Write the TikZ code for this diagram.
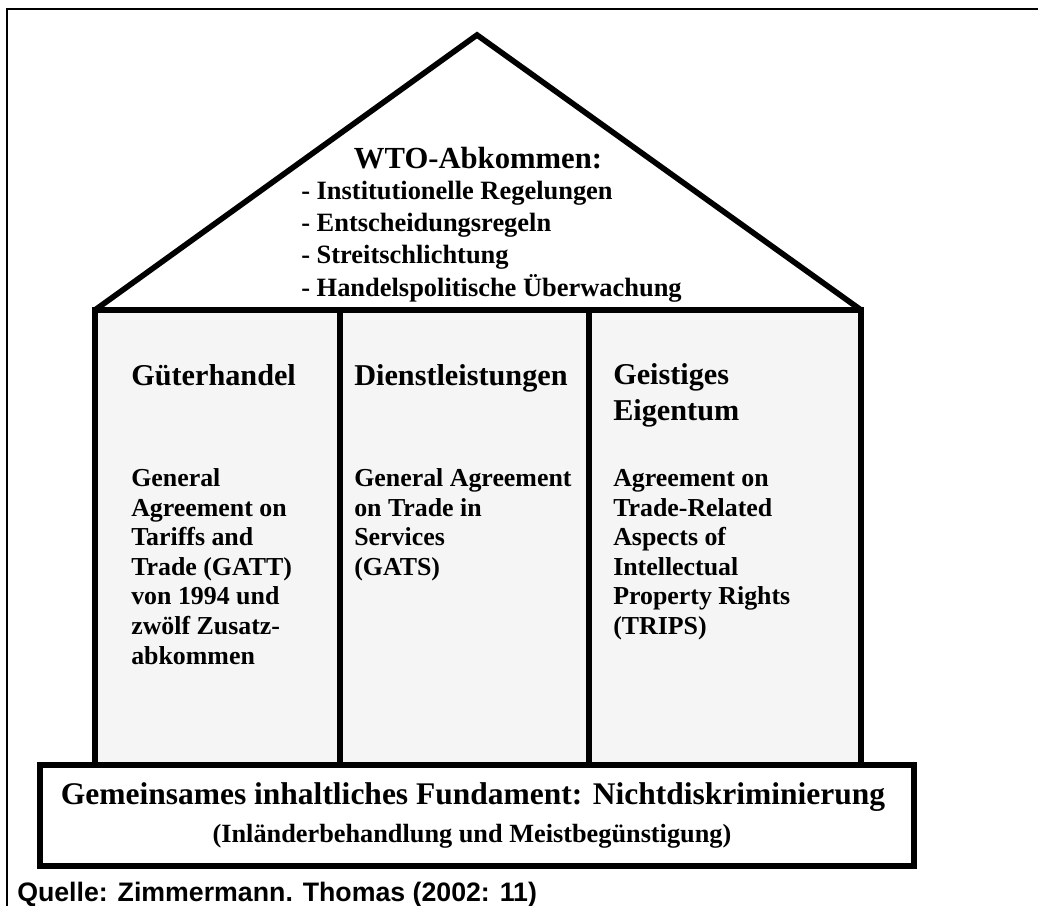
\documentclass[tikz,border=0pt]{standalone}
\usepackage{fontspec}
\setmainfont{Liberation Serif}
\setsansfont{Liberation Sans}
\usetikzlibrary{%
	positioning,%
}
\tikzset{
	roofline/.style={%
			draw,%
			line width=4pt,%
			line join=miter},%
	pillarbox/.style={%
			draw,%
			line width=4pt,%
			fill=black!4},%
	basebox/.style={%
			draw,%
			line width=4.6pt,%
			fill=white},%
	framenode/.style={%
			draw,%
			line width=1.2pt},%
	titlenode/.style={%
			anchor=base west,%
			font={\bfseries\fontsize{21.5}{25}\selectfont}},%
	bodynode/.style={%
			anchor=base west,%
			font={\bfseries\fontsize{18.4}{21}\selectfont}},%
	rooflist/.style={%
			anchor=base west,%
			font={\bfseries\fontsize{18.8}{22.8}\selectfont}},%
}

\begin{document}
\begin{tikzpicture}[x=0.025cm, y=-0.025cm, nodes={inner sep=0, align=left}]%
	\useasboundingbox (0,0) rectangle (1038,906);

	\draw[framenode] (7,906) -- (7,9) -- (1038,9);

	\draw[roofline] (95,310) -- (477,35) -- (861,310);
	\draw[pillarbox] (95,310) rectangle (340,765);
	\draw[pillarbox] (340,310) rectangle (589,765);
	\draw[pillarbox] (589,310) rectangle (861,765);
	\draw[basebox] (40,765) rectangle (914,866);

	% multi-line nodes sit on the baseline of their last line
	\node[anchor=base, font={\bfseries\fontsize{21.8}{25}\selectfont}] (wto) at (478,169) {WTO-Abkommen:};
	\node[rooflist] (regeln) at (301,296) {- Institutionelle Regelungen\\
		- Entscheidungsregeln\\
		- Streitschlichtung\\
		- Handelspolitische Überwachung};

	\node[titlenode] (gut) at (131,385) {Güterhandel};
	\node[titlenode] (dienst) at (354,385) {Dienstleistungen};
	\node[titlenode] (geist) at (613,420) {Geistiges\\Eigentum};

	\node[bodynode] (gatt) at (131,664) {General\\Agreement on\\Tariffs and\\Trade (GATT)\\von 1994 und\\zwölf Zusatz-\\abkommen};
	\node[bodynode] (gats) at (354,575.5) {General Agreement\\on Trade in\\Services\\(GATS)};
	\node[bodynode] (trips) at (613,634.5) {Agreement on\\Trade-Related\\Aspects of\\Intellectual\\Property Rights\\(TRIPS)};

	\node[anchor=base, font={\bfseries\fontsize{22.4}{26}\selectfont}] (fund) at (473,804) {Gemeinsames inhaltliches Fundament: Nichtdiskriminierung};
	\node[anchor=base, font={\bfseries\fontsize{18.7}{22}\selectfont}] (meist) at (472,842) {(Inländerbehandlung und Meistbegünstigung)};

	\node[anchor=base west, font={\sffamily\bfseries\fontsize{19}{21}\selectfont}] (quelle) at (17,901) {Quelle: Zimmermann. Thomas (2002: 11)};
\end{tikzpicture}
\end{document}
